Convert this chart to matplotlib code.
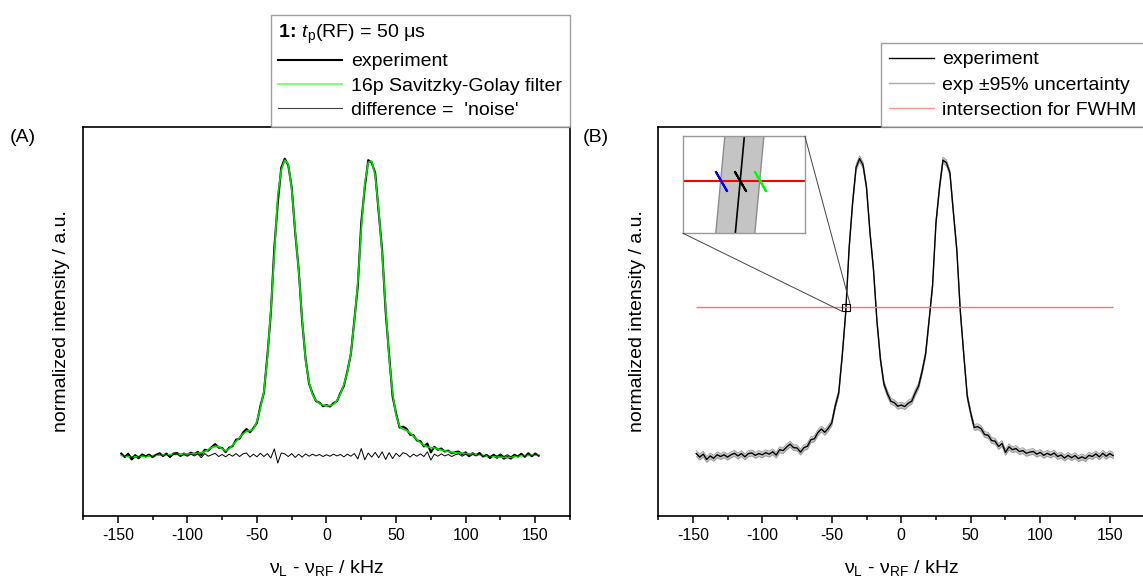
import numpy as np
import matplotlib
matplotlib.use('Agg')
import matplotlib.pyplot as plt
from matplotlib.lines import Line2D
from matplotlib.patches import Rectangle, ConnectionPatch
from matplotlib.ticker import MultipleLocator

plt.rcParams['font.family'] = ['Liberation Sans', 'DejaVu Sans']
plt.rcParams['mathtext.fontset'] = 'custom'
plt.rcParams['mathtext.rm'] = 'Liberation Sans'
plt.rcParams['mathtext.it'] = 'Liberation Sans:italic'
plt.rcParams['mathtext.bf'] = 'Liberation Sans:bold'
plt.rcParams['axes.unicode_minus'] = False

# frequency offset grid, kHz
freq = np.arange(-147.5, 153.0, 2.5)

# 16p Savitzky-Golay smoothed spectrum
sg_smooth = np.array([
    0.000, -0.002, -0.004, -0.005, -0.005, -0.004, -0.003, -0.002, -0.002, -0.001,
    0.000, 0.001, 0.001, 0.002, 0.002, 0.003, 0.003, 0.004, 0.004, 0.005,
    0.005, 0.006, 0.007, 0.009, 0.013, 0.019, 0.026, 0.031, 0.030, 0.022,
    0.016, 0.022, 0.034, 0.047, 0.060, 0.072, 0.081, 0.084, 0.088, 0.115,
    0.160, 0.215, 0.330, 0.490, 0.680, 0.880, 0.965, 0.998, 0.985, 0.900,
    0.760, 0.625, 0.460, 0.320, 0.245, 0.205, 0.185, 0.175, 0.170, 0.168,
    0.168, 0.172, 0.185, 0.208, 0.240, 0.280, 0.345, 0.450, 0.585, 0.765,
    0.920, 0.990, 0.995, 0.945, 0.830, 0.680, 0.500, 0.330, 0.210, 0.135,
    0.098, 0.088, 0.085, 0.076, 0.064, 0.053, 0.043, 0.034, 0.028, 0.026,
    0.025, 0.022, 0.018, 0.015, 0.013, 0.011, 0.009, 0.008, 0.007, 0.006,
    0.005, 0.004, 0.003, 0.002, 0.000, -0.002, -0.003, -0.004, -0.005, -0.006,
    -0.007, -0.007, -0.006, -0.004, -0.002, -0.001, 0.000, 0.000, 0.001, 0.001,
    0.001,
])

# residual 'noise' of the experiment around the smoothed curve
noise = np.array([
    0.006, -0.004, 0.008, -0.009, 0.003, -0.006, 0.005, -0.002, 0.004, -0.005,
    0.002, 0.006, -0.003, 0.004, -0.007, 0.003, 0.005, -0.004, 0.002, -0.003,
    0.004, -0.002, 0.005, -0.008, 0.006, -0.003, 0.002, 0.007, -0.004, 0.003,
    -0.005, 0.004, -0.003, 0.006, -0.004, 0.005, 0.008, -0.006, 0.004, -0.005,
    0.007, -0.004, 0.006, -0.009, 0.022, -0.026, 0.008, 0.005, -0.004, 0.006,
    -0.007, 0.004, -0.006, 0.005, -0.003, 0.004, -0.002, 0.003, -0.004, 0.002,
    -0.003, 0.004, -0.002, 0.003, -0.005, 0.004, -0.003, 0.006, -0.012, 0.023,
    -0.015, 0.008, -0.006, 0.010, -0.008, 0.012, -0.014, 0.009, -0.011, 0.007,
    -0.004, 0.009, 0.005, -0.006, 0.004, -0.003, 0.005, -0.004, 0.012, -0.016,
    0.004, -0.003, 0.005, -0.002, 0.003, -0.004, 0.002, 0.005, -0.003, 0.004,
    -0.005, 0.003, -0.002, 0.006, -0.004, 0.003, -0.006, 0.004, -0.003, 0.005,
    -0.004, 0.002, -0.005, 0.004, -0.002, 0.006, -0.005, 0.007, -0.004, 0.005,
    -0.002,
])

experiment = sg_smooth + noise
difference = experiment - sg_smooth
uncert = 0.010          # 95% band half width
half_max = 0.5
box_w, box_h = 5.7, 0.026   # zoom box drawn in panel B

GREEN = '#00dd00'
FWHM_RED = '#ff7070'

fig = plt.figure(figsize=(11.43, 5.81), dpi=100)
axA = fig.add_axes([0.0726, 0.1119, 0.4261, 0.6695])
axB = fig.add_axes([0.5757, 0.1119, 0.4256, 0.6695])

for ax in (axA, axB):
    ax.set_xlim(-175, 175)
    ax.set_ylim(-0.205, 1.11)
    ax.xaxis.set_major_locator(MultipleLocator(50))
    ax.xaxis.set_minor_locator(MultipleLocator(25))
    ax.tick_params(axis='x', which='major', direction='out', length=5,
                   width=1.1, labelsize=11.5, top=False)
    ax.tick_params(axis='x', which='minor', direction='out', length=3,
                   width=1.1, top=False)
    ax.tick_params(axis='y', which='both', left=False, right=False,
                   labelleft=False)
    for s in ax.spines.values():
        s.set_linewidth(1.2)
    ax.set_xlabel('ν$_\\mathrm{L}$ - ν$_\\mathrm{RF}$ / kHz', fontsize=14,
                  labelpad=11)
    ax.set_ylabel('normalized intensity / a.u.', fontsize=14, labelpad=9)

# ---- panel A
axA.plot(freq, experiment, color='k', lw=1.5)
axA.plot(freq, sg_smooth, color=GREEN, lw=1.2)
axA.plot(freq, difference, color='k', lw=0.7)

handlesA = [Line2D([], [], color='k', lw=1.5),
            Line2D([], [], color='#66ff66', lw=1.2),
            Line2D([], [], color='#444444', lw=0.8)]
labelsA = ['experiment', '16p Savitzky-Golay filter', "difference =  'noise'"]
legA = axA.legend(handlesA, labelsA, loc='lower right', bbox_to_anchor=(1, 1),
                  borderaxespad=0, fancybox=False, edgecolor='#888888',
                  fontsize=14,
                  title=r'$\mathbf{1\!:\!}$ $t_\mathrm{p}$(RF) = 50 μs',
                  title_fontsize=14, alignment='left', handlelength=3.3,
                  handletextpad=0.45, borderpad=0.4, labelspacing=0.35)
legA.get_frame().set_linewidth(1.0)

# ---- panel B
axB.fill_between(freq, experiment - uncert, experiment + uncert,
                 color='#c4c4c4', lw=0)
axB.plot(freq, experiment + uncert, color='#8c8c8c', lw=0.5)
axB.plot(freq, experiment - uncert, color='#8c8c8c', lw=0.5)
axB.plot(freq, experiment, color='k', lw=1.0)
axB.hlines(half_max, freq[0], freq[-1], color=FWHM_RED, lw=1.0)

handlesB = [Line2D([], [], color='k', lw=1.0),
            Line2D([], [], color='#aaaaaa', lw=1.0),
            Line2D([], [], color='#ff9999', lw=1.0)]
labelsB = ['experiment', 'exp ±95% uncertainty', 'intersection for FWHM']
legB = axB.legend(handlesB, labelsB, loc='lower right', bbox_to_anchor=(1, 1),
                  borderaxespad=0, fancybox=False, edgecolor='#888888',
                  fontsize=14, handlelength=2.3, handletextpad=0.45,
                  borderpad=0.4, labelspacing=0.4)
legB.get_frame().set_linewidth(1.0)

# half-maximum crossings on the rising edge of the left peak
rise = (freq >= -47.5) & (freq <= -32.5)
xr, yr = freq[rise], experiment[rise]
x_up = np.interp(half_max, yr + uncert, xr)
x_mid = np.interp(half_max, yr, xr)
x_low = np.interp(half_max, yr - uncert, xr)

ins = axB.inset_axes([0.051, 0.727, 0.251, 0.249])
ins.fill_between(freq, experiment - uncert, experiment + uncert,
                 color='#c4c4c4', lw=0)
ins.plot(freq, experiment + uncert, color='#8c8c8c', lw=1.0)
ins.plot(freq, experiment - uncert, color='#8c8c8c', lw=1.0)
ins.plot(freq, experiment, color='k', lw=1.2)
ins.axhline(half_max, color='red', lw=1.5)
for xc, col in ((x_up, 'blue'), (x_mid, 'k'), (x_low, '#00ff00')):
    ins.plot([xc], [half_max], marker=(2, 2, 30), ms=17, mew=1.5,
             color=col, zorder=5)
W = (x_low - x_up) / 0.32
H = (2 * uncert / (x_low - x_up)) * W * 27 / 365
ins.set_xlim(x_mid - 0.47 * W, x_mid + 0.53 * W)
ins.set_ylim(half_max - 0.543 * H, half_max + 0.457 * H)
ins.set_xticks([])
ins.set_yticks([])
for s in ins.spines.values():
    s.set_color('#999999')
    s.set_linewidth(1.0)

bx0, by0 = x_mid - box_w / 2, half_max - box_h / 2
axB.add_patch(Rectangle((bx0, by0), box_w, box_h, fill=False, ec='k',
                        lw=0.8, zorder=6))
for a, b in (((0, 0), (bx0, by0)), ((1, 1), (bx0 + box_w, by0 + box_h))):
    con = ConnectionPatch(xyA=a, coordsA=ins.transAxes, xyB=b,
                          coordsB=axB.transData, color='#444444', lw=0.7)
    fig.add_artist(con)

fig.text(10 / 1143, 1 - 137 / 581, '(A)', fontsize=14, va='center')
fig.text(583 / 1143, 1 - 137 / 581, '(B)', fontsize=14, va='center')

fig.savefig('out.png', dpi=100)
